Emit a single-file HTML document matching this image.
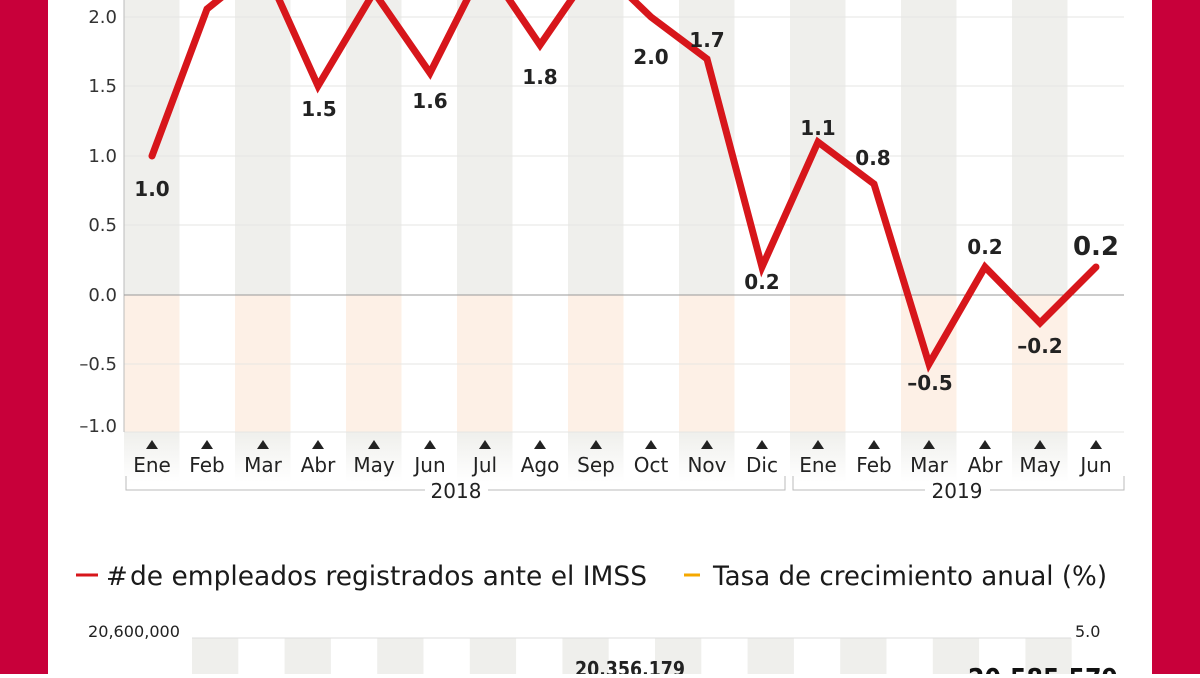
<!DOCTYPE html>
<html><head><meta charset="utf-8"><style>
body{margin:0;width:1200px;height:674px;overflow:hidden;background:#fff;font-family:"DejaVu Sans","Liberation Sans",sans-serif;}
</style></head><body>
<svg width="1200" height="674" xmlns="http://www.w3.org/2000/svg" font-family="DejaVu Sans, Liberation Sans, sans-serif">
<rect x="0" y="0" width="48" height="674" fill="#c8003a"/>
<rect x="1152" y="0" width="48" height="674" fill="#c8003a"/>
<defs>
<linearGradient id="fg" x1="0" y1="0" x2="0" y2="1"><stop offset="0" stop-color="#efefec"/><stop offset="1" stop-color="#fff"/></linearGradient>
</defs>
<g id="cols">
<rect x="124" y="0" width="55.5" height="295" fill="#efefec"/><rect x="124" y="295" width="55.5" height="137" fill="#fdf0e6"/><rect x="124" y="432" width="55.5" height="50" fill="url(#fg)"/>
<rect x="235" y="0" width="55.5" height="295" fill="#efefec"/><rect x="235" y="295" width="55.5" height="137" fill="#fdf0e6"/><rect x="235" y="432" width="55.5" height="50" fill="url(#fg)"/>
<rect x="346" y="0" width="55.5" height="295" fill="#efefec"/><rect x="346" y="295" width="55.5" height="137" fill="#fdf0e6"/><rect x="346" y="432" width="55.5" height="50" fill="url(#fg)"/>
<rect x="457" y="0" width="55.5" height="295" fill="#efefec"/><rect x="457" y="295" width="55.5" height="137" fill="#fdf0e6"/><rect x="457" y="432" width="55.5" height="50" fill="url(#fg)"/>
<rect x="568" y="0" width="55.5" height="295" fill="#efefec"/><rect x="568" y="295" width="55.5" height="137" fill="#fdf0e6"/><rect x="568" y="432" width="55.5" height="50" fill="url(#fg)"/>
<rect x="679" y="0" width="55.5" height="295" fill="#efefec"/><rect x="679" y="295" width="55.5" height="137" fill="#fdf0e6"/><rect x="679" y="432" width="55.5" height="50" fill="url(#fg)"/>
<rect x="790" y="0" width="55.5" height="295" fill="#efefec"/><rect x="790" y="295" width="55.5" height="137" fill="#fdf0e6"/><rect x="790" y="432" width="55.5" height="50" fill="url(#fg)"/>
<rect x="901" y="0" width="55.5" height="295" fill="#efefec"/><rect x="901" y="295" width="55.5" height="137" fill="#fdf0e6"/><rect x="901" y="432" width="55.5" height="50" fill="url(#fg)"/>
<rect x="1012" y="0" width="55.5" height="295" fill="#efefec"/><rect x="1012" y="295" width="55.5" height="137" fill="#fdf0e6"/><rect x="1012" y="432" width="55.5" height="50" fill="url(#fg)"/>
</g>
<g stroke="#e6e6e3" stroke-width="1">
<line x1="124" y1="17" x2="1124" y2="17"/><line x1="124" y1="86" x2="1124" y2="86"/><line x1="124" y1="156" x2="1124" y2="156"/><line x1="124" y1="225" x2="1124" y2="225"/><line x1="124" y1="364" x2="1124" y2="364"/><line x1="124" y1="432" x2="1124" y2="432"/>
</g>
<line x1="124" y1="0" x2="124" y2="432" stroke="#bbb"/>
<line x1="124" y1="295" x2="1124" y2="295" stroke="#999"/>
<g font-size="18" fill="#333" text-anchor="end">
<text x="117" y="23">2.0</text><text x="117" y="92">1.5</text><text x="117" y="162">1.0</text><text x="117" y="231">0.5</text><text x="117" y="301">0.0</text><text x="117" y="370">–0.5</text><text x="117" y="432">–1.0</text>
</g>
<polyline fill="none" stroke="#d7161b" stroke-width="7" stroke-linejoin="miter" stroke-linecap="round"
points="152,156 207,9 263,-36 318,86 374,-8 430,73 485,-36 540,45 596,-36 651,17 707,59 762,267 818,142 874,184 929,364 985,267 1040,323 1096,267"/>
<g font-size="20" font-weight="bold" fill="#222" text-anchor="middle">
<text x="152" y="196">1.0</text><text x="319" y="116">1.5</text><text x="430" y="108">1.6</text><text x="540" y="84">1.8</text><text x="651" y="64">2.0</text><text x="707" y="47">1.7</text><text x="762" y="289">0.2</text><text x="818" y="135">1.1</text><text x="873" y="165">0.8</text><text x="930" y="390">–0.5</text><text x="985" y="254">0.2</text><text x="1040" y="353">–0.2</text><text x="1096" y="255" font-size="26">0.2</text>
</g>
<g fill="#222">
<path d="M146,449 L152,440 L158,449Z"/><path d="M201,449 L207,440 L213,449Z"/><path d="M257,449 L263,440 L269,449Z"/><path d="M312,449 L318,440 L324,449Z"/><path d="M368,449 L374,440 L380,449Z"/><path d="M424,449 L430,440 L436,449Z"/><path d="M479,449 L485,440 L491,449Z"/><path d="M534,449 L540,440 L546,449Z"/><path d="M590,449 L596,440 L602,449Z"/><path d="M645,449 L651,440 L657,449Z"/><path d="M701,449 L707,440 L713,449Z"/><path d="M756,449 L762,440 L768,449Z"/><path d="M812,449 L818,440 L824,449Z"/><path d="M868,449 L874,440 L880,449Z"/><path d="M923,449 L929,440 L935,449Z"/><path d="M979,449 L985,440 L991,449Z"/><path d="M1034,449 L1040,440 L1046,449Z"/><path d="M1090,449 L1096,440 L1102,449Z"/>
</g>
<g font-size="20" fill="#222" text-anchor="middle">
<text x="152" y="472">Ene</text><text x="207" y="472">Feb</text><text x="263" y="472">Mar</text><text x="318" y="472">Abr</text><text x="374" y="472">May</text><text x="430" y="472">Jun</text><text x="485" y="472">Jul</text><text x="540" y="472">Ago</text><text x="596" y="472">Sep</text><text x="651" y="472">Oct</text><text x="707" y="472">Nov</text><text x="762" y="472">Dic</text><text x="818" y="472">Ene</text><text x="874" y="472">Feb</text><text x="929" y="472">Mar</text><text x="985" y="472">Abr</text><text x="1040" y="472">May</text><text x="1096" y="472">Jun</text>
</g>
<g stroke="#bbb"><path d="M126,476 V490 H425 M488,490 H785 V476" fill="none"/><path d="M793,476 V490 H925 M990,490 H1124 V476" fill="none"/></g>
<g font-size="20" fill="#222" text-anchor="middle"><text x="456" y="498">2018</text><text x="957" y="498">2019</text></g>
<line x1="76" y1="575" x2="98" y2="575" stroke="#d7161b" stroke-width="3"/>
<text x="106" y="585" font-size="26" fill="#1a1a1a">#</text>
<text x="130" y="585" font-size="27" fill="#1a1a1a" textLength="517" lengthAdjust="spacingAndGlyphs">de empleados registrados ante el IMSS</text>
<line x1="684" y1="575" x2="700" y2="575" stroke="#f5a800" stroke-width="3"/>
<text x="713" y="585" font-size="27" fill="#1a1a1a" textLength="394" lengthAdjust="spacingAndGlyphs">Tasa de crecimiento anual (%)</text>
<g fill="#efefec">
<rect x="192" y="638" width="46.3" height="40"/><rect x="284.6" y="638" width="46.3" height="40"/><rect x="377.2" y="638" width="46.3" height="40"/><rect x="469.8" y="638" width="46.3" height="40"/><rect x="562.4" y="638" width="46.3" height="40"/><rect x="655" y="638" width="46.3" height="40"/><rect x="747.6" y="638" width="46.3" height="40"/><rect x="840.2" y="638" width="46.3" height="40"/><rect x="932.8" y="638" width="46.3" height="40"/><rect x="1025.4" y="638" width="46.3" height="40"/>
</g>
<line x1="192" y1="638" x2="1071" y2="638" stroke="#ddd"/>
<text x="88" y="637" font-size="16" fill="#222" textLength="92" lengthAdjust="spacingAndGlyphs">20,600,000</text>
<text x="1075" y="637" font-size="16" fill="#222">5.0</text>
<text x="575" y="676" font-size="20" font-weight="bold" fill="#222" textLength="110" lengthAdjust="spacingAndGlyphs">20,356,179</text>
<text x="968" y="688" font-size="28" font-weight="bold" fill="#111" textLength="150" lengthAdjust="spacingAndGlyphs">20,585,579</text>
</svg>
</body></html>
